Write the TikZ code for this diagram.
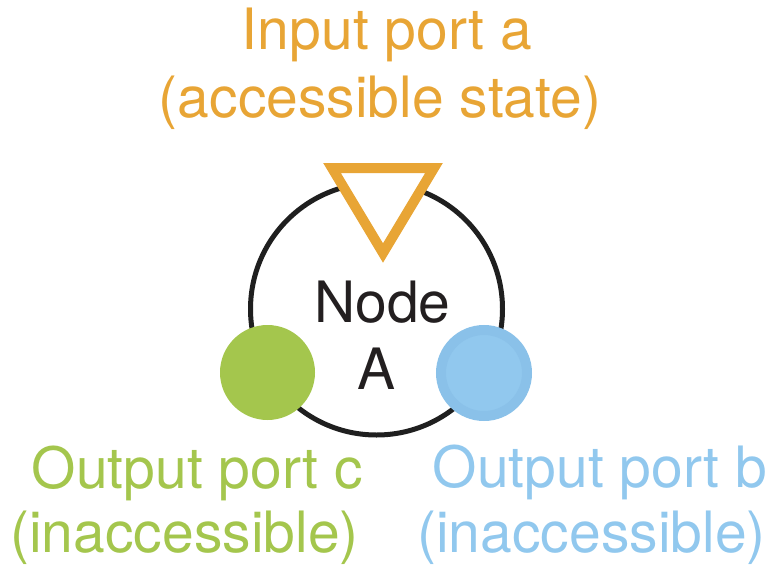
\documentclass[tikz,border=0pt]{standalone}
\usepackage{fontspec}
\setmainfont{TeX Gyre Heros}
\definecolor{orangeA}{HTML}{E8A535}
\definecolor{greenC}{HTML}{A4C64D}
\definecolor{blueB}{HTML}{91C8EE}
\definecolor{blueBline}{HTML}{8AC1E9}
\definecolor{inkN}{HTML}{231F20}
\begin{document}
\begin{tikzpicture}[x=1pt,y=-1pt,
  lbl/.style={inner sep=0pt,anchor=base,font=\fontsize{57}{67}\selectfont},
  portc/.style={circle,fill=greenC,minimum size=95pt,inner sep=0pt},
  portb/.style={circle,fill=blueB,draw=blueBline,line width=10pt,minimum size=86pt,inner sep=0pt},
  mainnode/.style={circle,draw=black!88,line width=5pt,minimum size=252pt,inner sep=0pt}]
\useasboundingbox (0,0) rectangle (782,565);
\node[mainnode] (main) at (376.5,309) {};
% input port triangle
\coordinate (ta) at (332,168);
\coordinate (tb) at (434,168);
\coordinate (tc) at (383,253);
\draw[orangeA,fill=white,line width=10pt,line join=miter] (ta) -- (tb) -- (tc) -- cycle;
\node[portc] (pc) at (267.5,372.5) {};
\node[portb] (pb) at (484,373) {};
% labels
\node[lbl,text=orangeA] (ina1) at (387,49) {Input port a};
\node[lbl,text=orangeA] (ina2) at (380,117) {(accessible state)};
\node[lbl,text=inkN] (nd1) at (382.5,322) {Node};
\node[lbl,text=inkN] (nd2) at (376.5,389) {A};
\node[lbl,text=greenC] (oc1) at (197.5,488) {Output port c};
\node[lbl,text=greenC] (oc2) at (184.5,552) {(inaccessible)};
\node[lbl,text=blueB] (ob1) at (600,487) {Output port b};
\node[lbl,text=blueB] (ob2) at (591.5,552) {(inaccessible)};
\end{tikzpicture}
\end{document}
